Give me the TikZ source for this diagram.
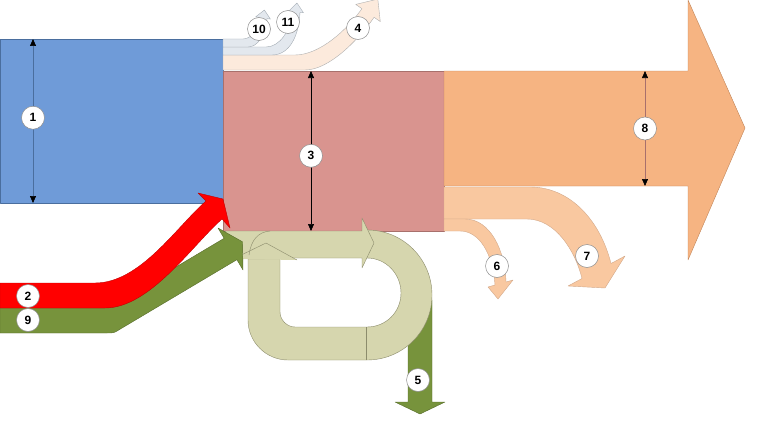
\documentclass[tikz,border=0pt]{standalone}
\usepackage{fontspec}
\setmainfont{Liberation Sans}
\usetikzlibrary{arrows.meta}
\definecolor{Muted}{HTML}{8C8C8C}
\definecolor{Blue}{HTML}{6F9BD8}
\definecolor{BlueDark}{HTML}{4A6E9E}
\definecolor{Rose}{HTML}{D9948F}
\definecolor{RoseDark}{HTML}{A8706C}
\definecolor{Orange}{HTML}{F6B482}
\definecolor{OrangeDark}{HTML}{C08458}
\definecolor{Peach}{HTML}{F9C8A0}
\definecolor{PeachPale}{HTML}{FCEADC}
\definecolor{Mist}{HTML}{E3E8EE}
\definecolor{MistDark}{HTML}{A4ACB4}
\definecolor{Sage}{HTML}{D6D6AE}
\definecolor{SageDark}{HTML}{8C8C6C}
\definecolor{Olive}{HTML}{77933C}
\definecolor{OliveDark}{HTML}{566B2A}
\definecolor{Red}{HTML}{FF0000}
\definecolor{RedDark}{HTML}{C00000}
\tikzset{num/.style={circle,draw=Muted,fill=white,line width=.5pt,minimum size=23pt,inner sep=0pt,font=\fontsize{12}{12}\selectfont\bfseries},dim/.style={{Triangle[length=7pt,width=6pt,color=black]}-{Triangle[length=7pt,width=6pt,color=black]},line width=.6pt},flowband/.style={line width=.4pt,line join=round}}

\begin{document}
\begin{tikzpicture}[x=1pt,y=-1pt]
      \useasboundingbox (0,0) rectangle (767,420);
      % stocks
      \filldraw[flowband,fill=Blue,draw=BlueDark](0,39)rectangle(223,203);
      \filldraw[flowband,fill=Rose,draw=RoseDark](223,71)rectangle(444,231);
      \filldraw[flowband,fill=Orange,draw=OrangeDark](444,71)--(688,71)--(688,0)--(745,128)--(688,260)--(688,186)--(444,186)--cycle;
      % small outflows on top
      \filldraw[flowband,fill=PeachPale,draw=Muted!70](223,55)--(295,55)..controls(320,55)and(347.5,29.2)..(361.9,8.7)--(355.7,4.4)--(377.8,-0.9)--(380.3,21.6)--(374.1,17.3)..controls(359.8,37.8)and(330,70)..(305,70)--(223,70)--cycle;
      \filldraw[flowband,fill=Mist,draw=MistDark](223,47)--(266,47)..controls(280,47)and(291,30)..(292,11.6)--(288.5,11.25)--(297,3)--(303.5,12.75)--(300,12.4)..controls(299,35)and(290,55)..(272,55)--(223,55)--cycle;
      \filldraw[flowband,fill=Mist,draw=MistDark](223,39)--(243,39)..controls(252,39)and(258,28)..(259,17.4)--(255.6,16.9)--(264.4,10)--(270.4,19.1)--(267,18.6)..controls(265,35)and(258,47)..(248,47)--(223,47)--cycle;
      % losses below
      \filldraw[flowband,fill=Peach,draw=OrangeDark!70](444,187)--(530,187)..controls(570,187)and(600,220)..(611,263.5)--(625,256)--(605,288)--(568,286)--(582,278.5)..controls(575,250)and(555,219)..(527,219)--(444,219)--cycle;
      \filldraw[flowband,fill=Peach,draw=OrangeDark!70](444,219)--(465,219)..controls(490,219)and(505,250)..(506,282)--(513,280)--(498,299)--(488,287)--(495,285)..controls(493,255)and(480,231)..(460,231)--(444,231)--cycle;
      % recycle loop
      \filldraw[flowband,fill=Olive,draw=OliveDark](408,300)--(408,402)--(395,402)--(420,414)--(445,402)--(432,402)--(432,300)--cycle;
      \filldraw[flowband,fill=Sage,draw=SageDark](362,230)--(367,230)..controls(403,230)and(432,259)..(432,295)..controls(432,331)and(403,360)..(367,360)--(288,360)..controls(266,360)and(248,342)..(248,320)--(248,259)--(280,259)--(280,312)..controls(280,320)and(287,327)..(295,327)--(367,327)..controls(386,327)and(401,312)..(401,293)..controls(401,274)and(386,258)..(367,258)--(362,258)--cycle;
      \draw[flowband,draw=SageDark](366,327)--(366,360);
      \filldraw[flowband,fill=Sage,draw=SageDark](225,231)--(362,231)--(362,218)--(374,243)--(362,268)--(362,258)--(237,258)--cycle;
      \fill[Sage](233,259)--(266,243)--(297,260)--cycle;
      \draw[flowband,draw=SageDark](233,259)--(266,243)--(297,260);
      \draw[flowband,draw=SageDark](249,255)..controls(251,240)and(258,232)..(270,231);
      % inflows
      \filldraw[flowband,fill=Olive,draw=OliveDark](0,308)--(100,308)..controls(107,308)and(107,308)..(113,304.4)--(224.1,238.3)--(218,228)--(242.5,241.8)--(243,270)--(236.9,259.7)--(119.7,329.4)..controls(114,333)and(114,333)..(107,333)--(0,333)--cycle;
      \filldraw[flowband,fill=Red,draw=RedDark](0,283)--(95,283)..controls(140,283)and(176,227.5)..(206,201)--(198,193)--(223,199)--(230,228)--(222,219)..controls(192,245.5)and(150,308)..(105,308)--(0,308)--cycle;
      % widths
      \coordinate(t1)at(33,39);\coordinate(b1)at(33,203);
      \coordinate(t3)at(311,71);\coordinate(b3)at(311,231);
      \coordinate(t8)at(645,71);\coordinate(b8)at(645,186);
      \draw[dim,draw=BlueDark](t1)--node[num,pos=.48](n1){1}(b1);
      \draw[dim,draw=black](t3)--node[num,pos=.53](n3){3}(b3);
      \draw[dim,draw=RoseDark](t8)--node[num](n8){8}(b8);
      % labels
      \node[num](n2)at(28,296){2};\node[num](n9)at(28,320){9};
      \node[num](n4)at(358,28){4};\node[num](n10)at(259,29){10};\node[num](n11)at(288,22){11};
      \node[num](n5)at(418,380){5};\node[num](n6)at(497,266){6};\node[num](n7)at(587,256){7};
    \end{tikzpicture}
\end{document}
